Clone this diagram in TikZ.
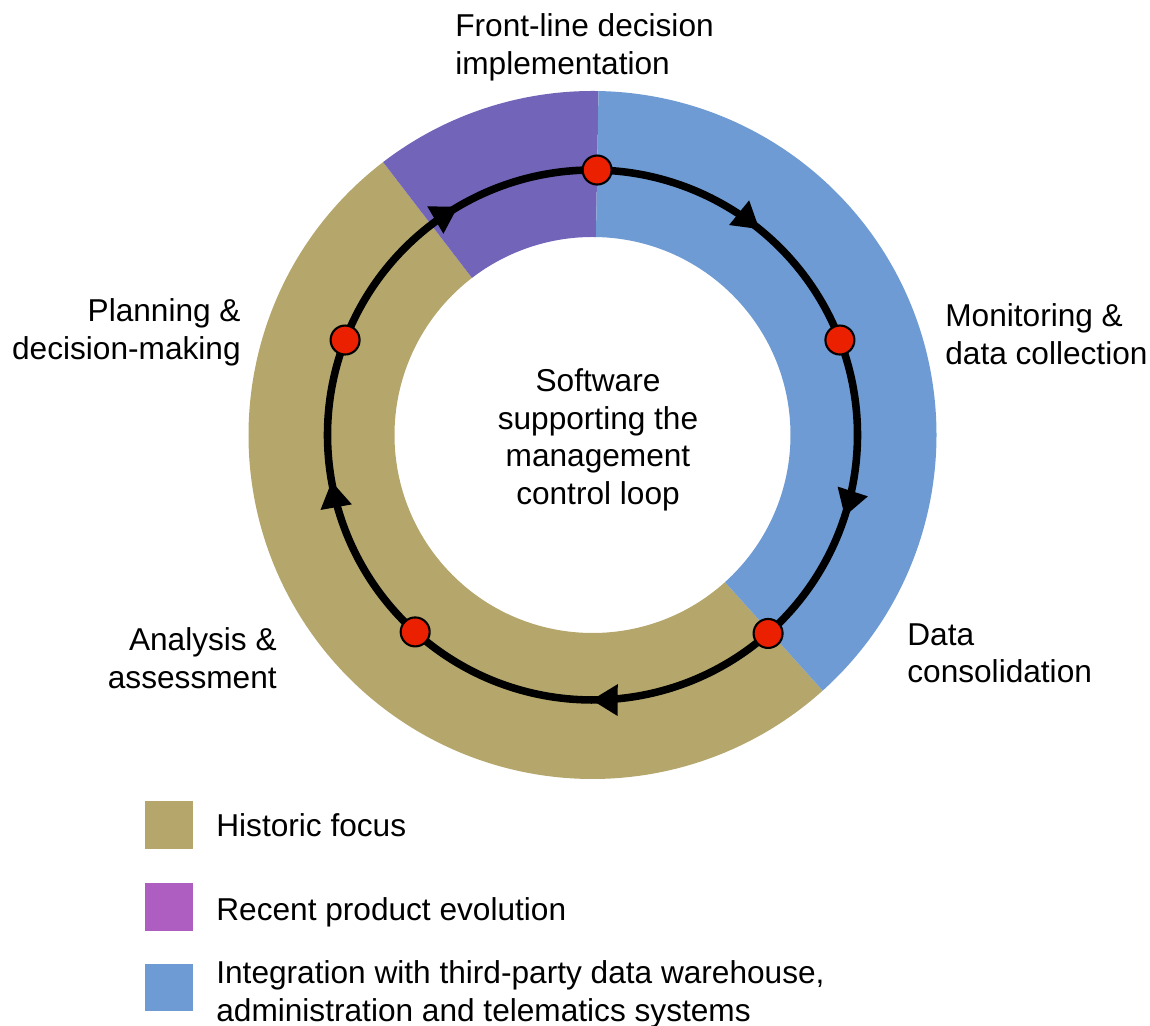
\documentclass[tikz,border=0pt]{standalone}
\usepackage{fontspec}
\setmainfont{Liberation Sans}
\usetikzlibrary{arrows.meta,calc,decorations.markings}
\definecolor{histgold}{RGB}{181,167,108}
\definecolor{recentpurple}{RGB}{114,100,185}
\definecolor{legendpurple}{RGB}{174,93,192}
\definecolor{integblue}{RGB}{111,155,212}
\definecolor{stagered}{RGB}{235,32,0}

\begin{document}
\begin{tikzpicture}[x=0.02cm,y=0.02cm,
  lbl/.style={inner sep=0pt,font=\fontsize{18}{21.5}\selectfont},
  stagedot/.style={circle,draw=black,line width=1.2pt,fill=stagered,minimum size=16.5pt,inner sep=0pt},
  looparc/.style={line width=4.3pt,postaction={decorate},
    decoration={markings,mark=at position #1 with {\arrow{Triangle[length=15pt,width=17pt]}}}},
  legendbox/.style={minimum size=27.2pt,inner sep=0pt}]
  \useasboundingbox (0,0) rectangle (1150,1025);
  \coordinate (C) at (592.5,590);
  % ring sectors
  \foreach \a/\b/\col in {127.5/312/histgold,89/127.5/recentpurple,-48/89/integblue}
    \fill[\col] ($(C)+(\a:344)$) arc[start angle=\a,end angle=\b,radius=344]
      -- ($(C)+(\b:198)$) arc[start angle=\b,end angle=\a,radius=198] -- cycle;
  % control loop
  \coordinate (p1) at ($(C)+(89:265)$);
  \coordinate (p2) at ($(C)+(21:265)$);
  \coordinate (p3) at ($(C)+(-48.5:265)$);
  \coordinate (p4) at ($(C)+(-132:265)$);
  \coordinate (p5) at ($(C)+(-201:265)$);
  \foreach \s/\e/\p/\m in {89/21/p1/0.56,21/-48.5/p2/0.56,-48.5/-132/p3/0.5,-132/-201/p4/0.55,-201/-271/p5/0.55}
    \draw[looparc=\m] (\p) arc[start angle=\s,end angle=\e,radius=265];
  \node[stagedot] (implem) at (p1) {};
  \node[stagedot] (monitor) at (p2) {};
  \node[stagedot] (consol) at (p3) {};
  \node[stagedot] (assess) at (p4) {};
  \node[stagedot] (plan) at (p5) {};
  % labels
  \node[lbl,anchor=north west,align=left] (implemlbl) at (455,1012) {Front-line decision\\implementation};
  \node[lbl,anchor=north west,align=left] (monitorlbl) at (945,722) {Monitoring \&\\data collection};
  \node[lbl,anchor=north west,align=left] (consollbl) at (907,402) {Data\\consolidation};
  \node[lbl,anchor=north east,align=right] (planlbl) at (241,727) {Planning \&\\decision-making};
  \node[lbl,anchor=north east,align=right] (assesslbl) at (277,398) {Analysis \&\\assessment};
  \node[lbl,anchor=north,align=center] (centrelbl) at (598,657) {Software\\supporting the\\management\\control loop};
  % legend
  \node[legendbox,fill=histgold] (leghist) at (169,200) {};
  \node[legendbox,fill=legendpurple] (legrecent) at (169,118) {};
  \node[legendbox,fill=integblue] (leginteg) at (169,37.5) {};
  \node[lbl,anchor=north west] (leghistlbl) at (216,212) {Historic focus};
  \node[lbl,anchor=north west] (legrecentlbl) at (216,128) {Recent product evolution};
  \node[lbl,anchor=north west,align=left] (leginteglbl) at (216,65) {Integration with third-party data warehouse,\\administration and telematics systems};
\end{tikzpicture}
\end{document}
